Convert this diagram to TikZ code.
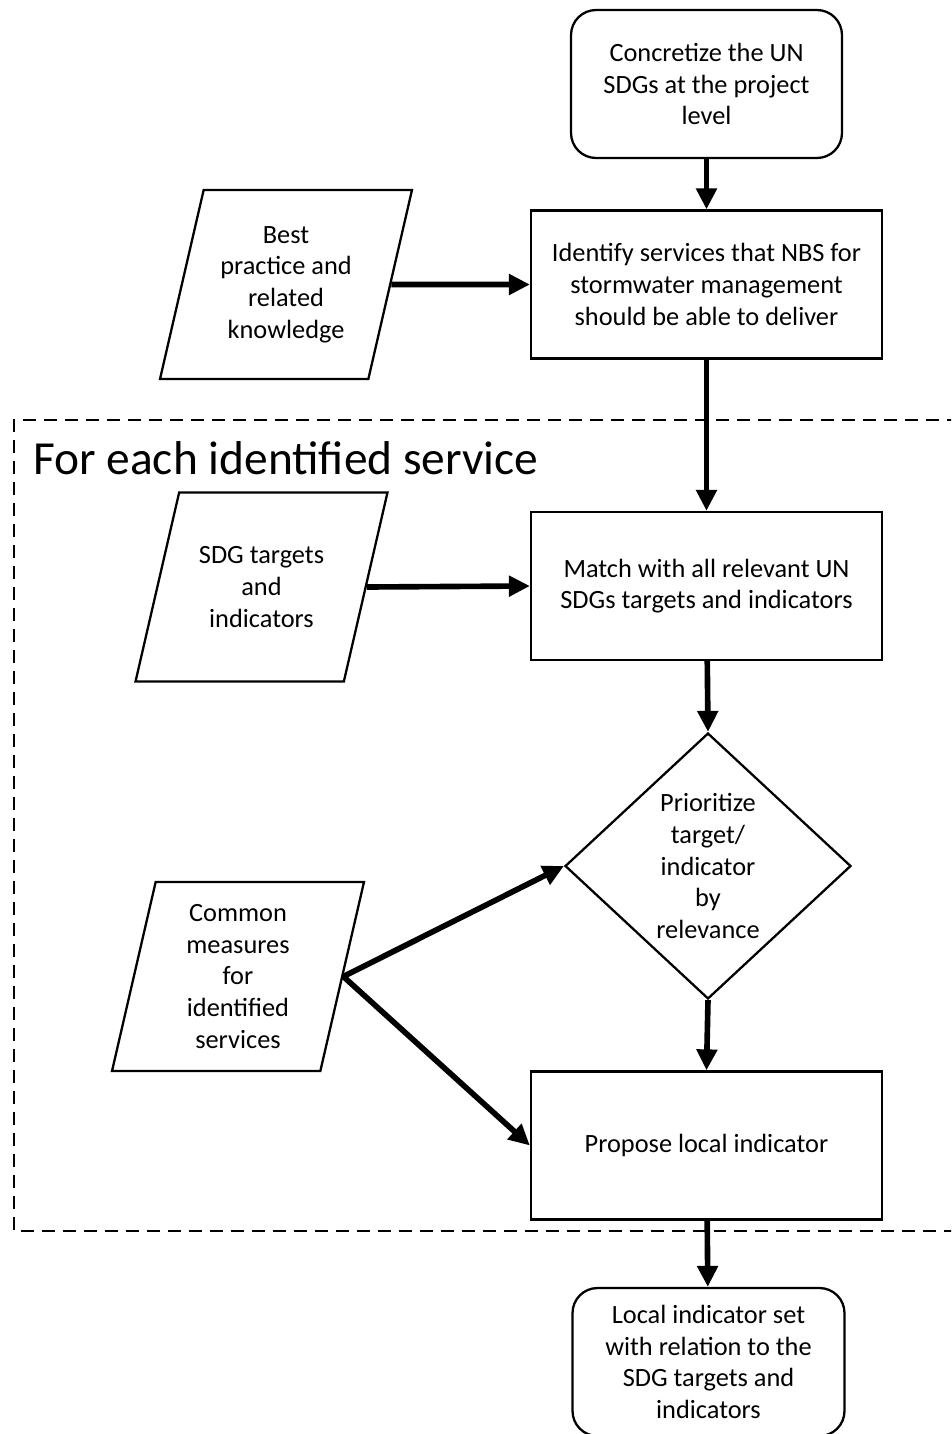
\documentclass[tikz,border=0pt]{standalone}
\usepackage{fontspec}
\setmainfont{Carlito}
\usetikzlibrary{arrows.meta,shapes.geometric}

\tikzset{
    stepbox/.style={draw, line width=1.3pt, minimum width=7.02cm, minimum height=2.96cm, align=center, inner sep=0pt},
    endbox/.style={draw, line width=1.3pt, rounded corners=0.5cm, minimum width=5.42cm, minimum height=2.96cm, align=center, inner sep=0pt},
    inputbox/.style={draw, line width=1.3pt, trapezium, trapezium left angle=77, trapezium right angle=103,
        trapezium stretches body=true, minimum width=5.04cm, inner sep=0pt,
        execute at begin node={\begin{minipage}[c][3.78cm][c]{3cm}\centering},
        execute at end node={\end{minipage}}},
    choicebox/.style={draw, line width=1.3pt, diamond, aspect=1.075, minimum width=5.72cm, minimum height=5.32cm, align=center, inner sep=0pt},
    arr/.style={line width=3.2pt, -{Triangle[length=0.42cm,width=0.4cm]}}
}

\begin{document}
\begin{tikzpicture}[x=0.02cm, y=-0.02cm, font=\fontsize{15}{18}\selectfont]
            \clip (0, 0) rectangle (951, 1434);

            %%loop frame
            \draw[line width=1pt, dash pattern=on 0.26cm off 0.16cm] (960, 420) -- (14, 420) -- (14, 1231) -- (960, 1231);
                \node[anchor=west, font=\fontsize{27}{32}\selectfont] (looptitle) at (27, 458){For each identified service};

            %%main column
            \node[endbox] (concretize) at (706.5, 84){Concretize the UN\\SDGs at the project\\level};
            \node[stepbox] (identify) at (706.5, 284.5){Identify services that NBS for\\stormwater management\\should be able to deliver};
            \node[stepbox] (match) at (706.5, 586){Match with all relevant UN\\SDGs targets and indicators};
            \node[choicebox] (prioritize) at (708, 866){Prioritize\\target/\\indicator\\by\\relevance};
            \node[stepbox] (propose) at (706.5, 1145.5){Propose local indicator};
            \node[endbox, minimum width=5.44cm] (indicatorset) at (708.5, 1362){Local indicator set\\with relation to the\\SDG targets and\\indicators};

            %%inputs
            \node[inputbox] (bestpractice) at (286, 284.5){Best\\practice and\\related\\knowledge};
            \node[inputbox] (sdgtargets) at (261.5, 587){SDG targets\\and\\indicators};
            \node[inputbox] (measures) at (238, 976.5){Common\\measures\\for\\identified\\services};

            %%arrows
            \draw[arr] (concretize) to (identify);
            \draw[arr] (identify) to (match);
            \draw[arr] (bestpractice.east) to (identify.west);
            \draw[arr] (sdgtargets.east) to (match.west);
            \draw[arr] (match) to (prioritize.north);
            \draw[arr] (measures.east) to (prioritize.west);
            \draw[arr] (measures.east) to (propose.west);
            \draw[arr] (prioritize.south) to (propose.north);
            \draw[arr] (propose) to (indicatorset);

        \end{tikzpicture}
\end{document}
